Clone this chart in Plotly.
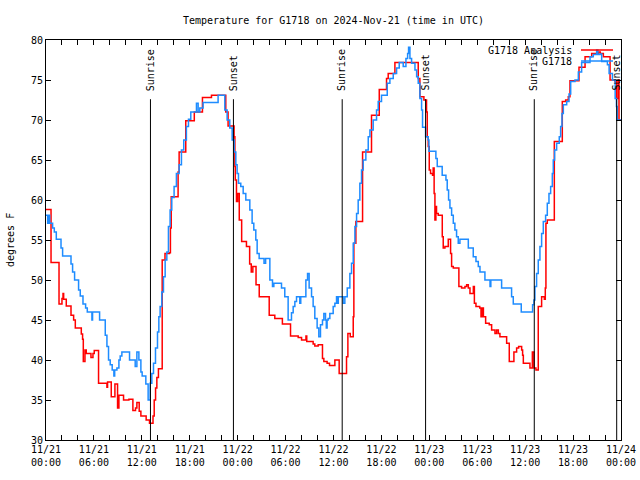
import pandas as pd
import plotly.graph_objects as go

# ---- data (hours since 2024-11-21 00:00 UTC, temperature in deg F) ----
analysis_hours = [0.00, 0.63, 1.63, 2.00, 2.13, 2.21, 2.54, 3.13, 3.46, 3.67, 4.42, 4.58, 4.67, 4.88,
                  5.04, 5.63, 5.88, 6.04, 6.58, 7.63, 7.71, 8.17, 8.63, 8.96, 9.13, 9.71, 10.38, 10.88,
                  11.21, 11.38, 11.67, 11.88, 12.54, 12.96, 13.40, 13.55, 13.72, 13.88, 14.08, 14.55,
                  14.90, 15.45, 15.58, 15.68, 16.54, 16.67, 17.50, 18.57, 19.59, 20.72, 22.51, 22.80,
                  23.55, 23.65, 23.70, 23.85, 24.00, 24.20, 24.50, 25.10, 25.50, 25.70, 25.90, 26.30,
                  26.70, 27.95, 28.65, 29.60, 30.62, 31.58, 32.00, 32.55, 32.65, 33.45, 33.66, 34.08,
                  34.62, 34.79, 35.20, 35.50, 36.17, 36.71, 37.63, 37.80, 38.10, 38.47, 38.55, 38.80,
                  39.64, 40.76, 41.73, 42.64, 42.85, 43.69, 46.61, 46.82, 47.32, 47.65, 47.74, 47.86,
                  47.99, 48.15, 48.40, 48.48, 48.60, 48.70, 48.82, 48.90, 49.12, 49.62, 49.74, 49.95,
                  50.37, 50.66, 50.79, 51.00, 51.70, 52.04, 52.46, 52.67, 52.88, 53.09, 53.51, 53.64,
                  53.84, 54.31, 54.47, 54.64, 54.77, 55.05, 55.50, 55.80, 56.22, 56.43, 56.64, 56.84,
                  57.68, 58.01, 58.59, 58.93, 59.18, 59.56, 59.68, 59.77, 60.60, 60.90, 61.10, 61.35,
                  61.64, 62.06, 62.40, 62.52, 62.60, 62.77, 63.65, 64.65, 65.07, 65.40, 65.61, 66.74,
                  67.50, 68.33, 69.17, 69.40, 69.79, 70.63, 71.25, 71.46, 71.67, 71.75, 72.00]
analysis_temp = [58.8, 52.2, 47.0, 47.7, 48.3, 47.6, 46.75, 45.6, 45.0, 44.0, 43.25, 42.6, 39.8, 41.25,
                 40.8, 40.3, 40.8, 41.2, 37.1, 36.6, 37.25, 35.4, 37.0, 34.0, 35.6, 35.0, 35.1, 33.7,
                 34.0, 34.7, 33.6, 33.0, 32.5, 32.1, 33.0, 35.0, 36.5, 37.8, 38.9, 52.5,
                 53.3, 53.4, 56.5, 60.4, 63.5, 66.0, 69.9, 71.0, 72.8, 73.1, 71.0, 69.25,
                 67.9, 64.2, 62.5, 59.8, 60.8, 57.5, 54.8, 54.2, 52.0, 51.0, 51.7, 49.4,
                 47.9, 45.6, 45.2, 44.5, 43.0, 42.8, 42.5, 43.0, 42.3, 42.0, 41.75, 41.9,
                 40.2, 39.8, 39.6, 39.3, 40.0, 38.3, 40.4, 43.3, 42.9, 45.4, 54.6, 57.3,
                 66.0, 70.6, 73.8, 75.2, 75.8, 77.2, 75.2, 72.9, 72.5, 71.0, 67.9, 66.7,
                 63.75, 63.3, 63.1, 64.0, 60.8, 57.5, 59.2, 58.3, 58.1, 55.4, 54.0, 54.2,
                 55.1, 53.3, 51.7, 51.5, 49.2, 49.0, 49.2, 49.4, 49.0, 48.3, 49.2, 47.1,
                 46.7, 46.5, 45.4, 46.5, 45.4, 44.6, 44.4, 43.75, 43.3, 43.75, 43.3, 42.9,
                 42.1, 39.8, 41.0, 41.5, 41.7, 41.25, 40.6, 39.6, 39.0, 41.0, 39.0, 38.75,
                 46.7, 47.9, 47.6, 49.0, 57.1, 57.5, 67.3, 72.3, 72.5, 72.9, 74.9, 76.6,
                 77.9, 78.3, 78.5, 78.3, 77.9, 75.0, 74.8, 72.7, 75.0, 70.0, 70.0]

obs_hours = [0.00, 0.21, 0.33, 0.46, 0.83, 1.04, 1.29, 1.88, 2.08, 3.13, 3.33, 3.58, 4.08, 4.29,
             4.63, 4.96, 5.17, 5.75, 5.83, 6.71, 7.42, 7.63, 7.83, 8.04, 8.29, 8.50, 8.60, 8.88,
             9.13, 9.29, 9.50, 10.46, 11.17, 11.38, 11.63, 11.88, 12.04, 12.50, 12.79, 13.04,
             13.25, 13.46, 13.71, 13.96, 14.13, 14.29, 14.50, 14.71, 14.92, 15.13, 15.33, 15.54,
             15.75, 16.04, 16.33, 16.67, 16.96, 17.25, 17.58, 17.84, 18.13, 18.84, 19.05, 19.26,
             19.67, 21.55, 22.39, 22.68, 23.01, 23.31, 23.56, 23.77, 23.93, 24.10, 24.39, 24.69,
             25.02, 25.52, 25.81, 26.02, 26.27, 26.44, 26.69, 27.30, 27.50, 28.03, 28.36, 28.53,
             29.28, 29.49, 29.90, 30.32, 30.74, 30.95, 31.16, 31.37, 31.78, 31.90, 32.54, 32.75,
             32.95, 33.25, 33.45, 33.66, 33.95, 34.16, 34.37, 34.62, 34.79, 35.00, 35.10, 35.20,
             35.33, 35.54, 35.96, 36.17, 36.38, 36.50, 36.60, 37.21, 37.42, 37.72, 38.05, 38.26,
             38.47, 38.68, 38.89, 39.09, 39.30, 39.51, 39.72, 40.05, 40.35, 40.56, 40.97, 41.39,
             41.60, 42.01, 42.73, 43.06, 43.48, 43.90, 44.23, 44.73, 45.07, 45.28, 45.40, 45.57,
             45.78, 46.20, 46.41, 46.61, 46.82, 47.03, 47.15, 47.53, 47.86, 47.95, 48.82, 48.99,
             49.61, 50.08, 50.24, 50.41, 50.58, 50.79, 51.00, 51.20, 51.41, 51.62, 51.83, 52.88,
             53.50, 53.84, 54.13, 54.34, 54.96, 55.60, 55.70, 57.05, 58.30, 58.51, 59.51, 60.93,
             61.10, 61.22, 61.43, 61.64, 61.85, 62.06, 62.27, 62.56, 62.77, 62.98, 63.19, 63.40,
             63.52, 63.69, 63.94, 64.27, 64.44, 64.61, 64.78, 65.20, 65.49, 65.70, 66.24, 66.66,
             67.07, 68.12, 68.53, 68.95, 69.10, 69.37, 69.58, 70.30, 70.51, 70.93, 71.27, 71.43,
             71.52, 72.00]
obs_temp = [58.1, 57.1, 58.1, 57.1, 56.5, 56.0, 55.1, 54.0, 53.0, 52.0, 51.0, 50.0, 48.75, 48.0,
            47.0, 46.5, 46.0, 45.0, 46.0, 45.0, 43.1, 41.7, 40.0, 39.4, 38.75, 38.0, 38.75, 39.0,
            40.0, 40.5, 41.0, 40.0, 39.2, 41.0, 40.0, 38.5, 38.0, 37.0, 35.0, 37.1,
            38.3, 39.6, 41.5, 43.5, 45.4, 46.7, 48.5, 50.4, 52.5, 53.5, 56.7, 58.75,
            60.3, 61.7, 63.3, 64.4, 66.25, 67.5, 69.2, 70.1, 71.0, 72.1, 71.0, 71.5,
            72.2, 73.1, 71.25, 70.0, 69.0, 67.5, 66.0, 64.4, 63.3, 62.1, 61.7, 60.8,
            60.0, 58.75, 57.1, 56.25, 55.0, 53.3, 52.7, 52.1, 52.7, 50.0, 49.2, 49.6,
            49.6, 49.0, 47.9, 45.0, 45.9, 46.7, 47.3, 47.9, 47.1, 47.9, 50.0, 50.8,
            49.0, 47.9, 46.7, 45.2, 44.0, 42.9, 44.4, 45.0, 45.8, 45.0, 44.0, 45.0,
            45.2, 45.8, 46.7, 47.1, 47.9, 47.1, 47.9, 47.1, 47.9, 49.0, 50.8, 52.1,
            54.6, 56.7, 58.3, 60.0, 62.1, 63.75, 65.0, 66.25, 67.9, 68.75, 70.0, 71.25,
            72.3, 73.1, 74.6, 75.2, 75.8, 76.5, 77.2, 76.7, 77.7, 78.3, 79.1, 77.7,
            77.1, 76.25, 75.4, 74.6, 72.7, 71.25, 69.1, 67.9, 67.5, 66.1, 65.2, 64.2,
            63.1, 62.5, 61.25, 60.0, 59.0, 58.1, 57.1, 56.25, 55.4, 54.6, 55.1, 54.0,
            52.9, 52.3, 51.7, 51.0, 50.0, 49.2, 50.0, 49.0, 47.9, 47.0, 46.0, 46.9,
            47.5, 49.2, 50.8, 52.5, 54.2, 55.8, 57.3, 58.1, 59.6, 60.8, 61.7, 63.3,
            65.0, 66.25, 67.1, 67.9, 69.2, 70.8, 71.9, 72.3, 73.25, 74.8, 75.0, 76.0,
            77.2, 77.9, 78.2, 78.75, 78.2, 78.25, 77.3, 76.9, 75.8, 75.0, 72.7, 71.7,
            70.0, 70.0]

sun_event_hours = [13.08, 23.47, 37.09, 47.53, 61.14, 71.46]
sun_event_labels = ["Sunrise", "Sunset", "Sunrise", "Sunset", "Sunrise", "Sunset"]

tick_hours = [0, 6, 12, 18, 24, 30, 36, 42, 48, 54, 60, 66, 72]
tick_labels = ["11/21<br>00:00", "11/21<br>06:00", "11/21<br>12:00", "11/21<br>18:00",
               "11/22<br>00:00", "11/22<br>06:00", "11/22<br>12:00", "11/22<br>18:00",
               "11/23<br>00:00", "11/23<br>06:00", "11/23<br>12:00", "11/23<br>18:00",
               "11/24<br>00:00"]

series_names = ["G1718 Analysis", "G1718"]
series_colors = ["#ff0000", "#1e8cff"]

# ---- build ----
base = pd.Timestamp("2024-11-21 00:00")
def to_time(hours):
    return [base + pd.Timedelta(hours=h) for h in hours]

FONT = "DejaVu Sans Mono"
fig = go.Figure()
fig.add_trace(go.Scatter(x=to_time(analysis_hours), y=analysis_temp, mode="lines",
                         line=dict(color=series_colors[0], width=1.5, shape="hv"),
                         name=series_names[0], showlegend=False))
fig.add_trace(go.Scatter(x=to_time(obs_hours), y=obs_temp, mode="lines",
                         line=dict(color=series_colors[1], width=1.5, shape="hv"),
                         name=series_names[1], showlegend=False))

shapes = []
annotations = []
for h, lab in zip(sun_event_hours, sun_event_labels):
    t = base + pd.Timedelta(hours=h)
    shapes.append(dict(type="line", xref="x", yref="y", x0=t, x1=t, y0=30, y1=72.6,
                       line=dict(color="black", width=1)))
    annotations.append(dict(x=t, y=73.4, xref="x", yref="y", text=lab, textangle=-90,
                            showarrow=False, xanchor="center", yanchor="bottom",
                            font=dict(family=FONT, size=10, color="black")))

# legend (gnuplot style: text then sample line)
W, H = 640, 480
L, R, T, B = 46, 621, 40, 440
def px(xp):
    return (xp - L) / (R - L)
def py(yp):
    return (B - yp) / (B - T)
for i, (nm, col) in enumerate(zip(series_names, series_colors)):
    yy = 50 + 11 * i
    annotations.append(dict(x=px(574), y=py(yy), xref="paper", yref="paper", text=nm,
                            showarrow=False, xanchor="right", yanchor="middle",
                            font=dict(family=FONT, size=10, color="black")))
    shapes.append(dict(type="line", xref="paper", yref="paper", x0=px(581), x1=px(613),
                       y0=py(yy), y1=py(yy), line=dict(color=col, width=1.5)))

annotations.append(dict(x=px(10), y=0.5, xref="paper", yref="paper", text="degrees F",
                        textangle=-90, showarrow=False, xanchor="center", yanchor="middle",
                        font=dict(family=FONT, size=10, color="black")))

fig.update_layout(
    width=W, height=H, autosize=False,
    margin=dict(l=L, r=W - R, t=T, b=H - B, pad=0, autoexpand=False),
    paper_bgcolor="white", plot_bgcolor="white",
    font=dict(family=FONT, size=10, color="black"),
    title=dict(text="Temperature for G1718 on 2024-Nov-21 (time in UTC)", x=0.5, xref="paper",
               y=1 - 20 / H, yanchor="middle", automargin=False,
               font=dict(family=FONT, size=10, color="black")),
    shapes=shapes, annotations=annotations,
    xaxis=dict(type="date", range=[base, base + pd.Timedelta(hours=72)], automargin=False,
               tickmode="array", tickvals=to_time(tick_hours), ticktext=tick_labels,
               ticks="inside", ticklen=5, tickcolor="black", showline=True, linecolor="black",
               linewidth=1, mirror="ticks", showgrid=False, zeroline=False,
               minor=dict(tickmode="linear", tick0=base, dtick=2 * 3600 * 1000, ticks="inside",
                          ticklen=5, tickcolor="black", showgrid=False),
               tickfont=dict(family=FONT, size=10, color="black")),
    yaxis=dict(range=[30, 80], dtick=5, tick0=30, ticks="inside", ticklen=5, tickcolor="black",
               automargin=False,
               showline=True, linecolor="black", linewidth=1, mirror="ticks", showgrid=False,
               zeroline=False, tickfont=dict(family=FONT, size=10, color="black")),
)

fig.write_html("out.html")
